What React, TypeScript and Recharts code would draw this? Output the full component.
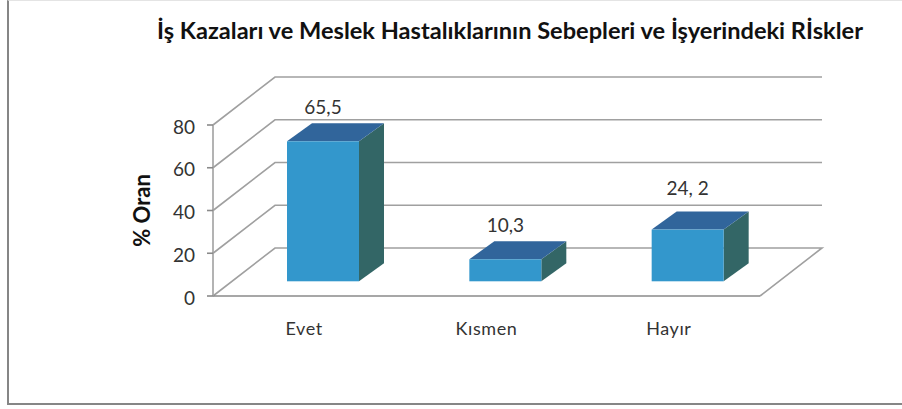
import { BarChart, Bar, XAxis, YAxis, CartesianGrid, LabelList, Label } from 'recharts';

const categories = ['Evet', 'Kısmen', 'Hayır'];
const values = [65.5, 10.3, 24.2];
const valueLabels = ['65,5', '10,3', '24, 2'];
const yTicks = [0, 20, 40, 60, 80];

const WIDTH = 902;
const HEIGHT = 409;
const MARGIN = { top: 125, right: 142, bottom: 53, left: 153 };
const PLOT_BOTTOM = HEIGHT - MARGIN.bottom - 60;

// depth of the "3D" box the plot sits in, and of the bars inside it
const WALL_DX = 62;
const WALL_DY = 48;
const BAR_SHIFT_X = 19;
const BAR_SHIFT_Y = 14.7;
const BAR_DX = 25;
const BAR_DY = 18;

// the original has the last label sitting a bit higher
const LABEL_LIFT = [0, 0, 7];

const FONT = 'Lato, Carlito, sans-serif';

const data = categories.map((name, i) => ({ name, value: values[i], label: valueLabels[i] }));

function WallLine(props: any) {
  const { x1, y1, x2, key } = props;
  const floor = Math.abs(y1 - PLOT_BOTTOM) < 1;
  const backY = y1 - WALL_DY;
  let d = `M${x1},${y1} L${x1 + WALL_DX},${backY} L${x2 + WALL_DX},${backY}`;
  if (floor) d += ` L${x2},${y1}`;
  return <path key={key} d={d} fill="none" stroke="#a0a0a0" strokeWidth={1.6} />;
}

function Box3D(props: any) {
  const { x, y, width, height } = props;
  const left = x + BAR_SHIFT_X;
  const right = left + width;
  const top = y - BAR_SHIFT_Y;
  const bottom = top + height;
  return (
    <g>
      <polygon
        points={`${right},${top} ${right + BAR_DX},${top - BAR_DY} ${right + BAR_DX},${bottom - BAR_DY} ${right},${bottom}`}
        fill="#336666"
      />
      <polygon
        points={`${left},${top} ${left + BAR_DX},${top - BAR_DY} ${right + BAR_DX},${top - BAR_DY} ${right},${top}`}
        fill="#31659b"
      />
      <rect x={left} y={top} width={width} height={height} fill="#3397cc" />
    </g>
  );
}

function ValueLabel(props: any) {
  const { x, y, width, value, index } = props;
  return (
    <text
      x={x + BAR_SHIFT_X + width / 2}
      y={y - BAR_SHIFT_Y - 32 - LABEL_LIFT[index]}
      textAnchor="middle"
      dominantBaseline="middle"
      fontFamily={FONT}
      fontSize={19}
      fill="#333"
    >
      {value}
    </text>
  );
}

export default function App() {
  return (
    <div style={{ position: 'absolute', left: 0, top: 0, width: WIDTH, height: HEIGHT, background: '#fff' }}>
      <div
        style={{
          position: 'absolute',
          left: 7,
          top: 0,
          width: WIDTH - 7,
          height: 405,
          borderLeft: '2px solid #868686',
          borderBottom: '2px solid #868686',
          borderTop: '1px solid #e4e4e4',
          boxSizing: 'border-box',
        }}
      />
      <div style={{ position: 'absolute', left: 0, top: 0 }}>
        <BarChart width={WIDTH} height={HEIGHT} data={data} margin={MARGIN} barSize={72}>
          <CartesianGrid vertical={false} horizontal={WallLine} />
          <XAxis
            dataKey="name"
            height={60}
            axisLine={{ stroke: '#8a8a8a', strokeWidth: 1.6 }}
            tickLine={false}
            tick={{ fill: '#333', fontFamily: FONT, fontSize: 18, letterSpacing: 0.6 }}
            tickMargin={20}
            interval={0}
          />
          <YAxis
            width={60}
            domain={[0, 80]}
            ticks={yTicks}
            axisLine={{ stroke: '#a0a0a0', strokeWidth: 1.6 }}
            tickLine={{ stroke: '#8a8a8a', strokeWidth: 1.6 }}
            tickSize={6}
            tickMargin={12}
            tick={{ fill: '#333', fontFamily: FONT, fontSize: 19, dy: 2 }}
          >
            <Label
              value="% Oran"
              angle={-90}
              position="insideLeft"
              offset={-11}
              style={{ fontFamily: FONT, fontSize: 22, fontWeight: 700, fill: '#111', textAnchor: 'middle' }}
            />
          </YAxis>
          <Bar dataKey="value" shape={Box3D} isAnimationActive={false}>
            <LabelList dataKey="label" content={ValueLabel} />
          </Bar>
          <text x={510} y={33} textAnchor="middle" dominantBaseline="middle" fontFamily={FONT} fontSize={23.6} fontWeight={700} fill="#111">
            İş Kazaları ve Meslek Hastalıklarının Sebepleri ve İşyerindeki Rİskler
          </text>
        </BarChart>
      </div>
    </div>
  );
}
